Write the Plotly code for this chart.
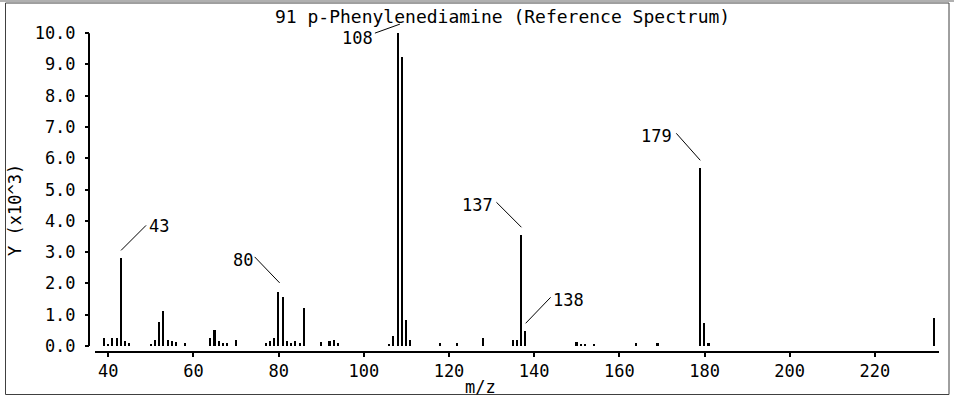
import plotly.graph_objects as go

# peak list (intensity in units of x10^3)
mz = [39, 40, 41, 42, 43, 44, 45, 50, 51, 52, 53, 54, 55, 56, 58,
      64, 65, 66, 67, 68, 70, 77, 78, 79, 80, 81, 82, 83, 84, 85, 86,
      90, 92, 93, 94, 106, 107, 108, 109, 110, 111, 118, 122, 128,
      135, 136, 137, 138, 150, 151, 152, 154, 164, 169, 179, 180, 181, 234]
intensity = [0.27, 0.08, 0.27, 0.27, 2.80, 0.15, 0.10, 0.05, 0.20, 0.77, 1.12, 0.20, 0.15, 0.12, 0.10,
             0.27, 0.52, 0.15, 0.10, 0.10, 0.20, 0.10, 0.15, 0.27, 1.73, 1.57, 0.15, 0.10, 0.15, 0.10, 1.20,
             0.13, 0.15, 0.20, 0.10, 0.07, 0.32, 10.0, 9.25, 0.82, 0.20, 0.10, 0.10, 0.27,
             0.18, 0.20, 3.54, 0.47, 0.12, 0.08, 0.08, 0.08, 0.10, 0.10, 5.68, 0.72, 0.10, 0.88]

x_ticks = [40, 60, 80, 100, 120, 140, 160, 180, 200, 220]
y_ticks = [0, 1, 2, 3, 4, 5, 6, 7, 8, 9, 10]

label_mz = [43, 80, 108, 137, 138, 179]

title = "91 p-Phenylenediamine (Reference Spectrum)"
FONT = dict(family="DejaVu Sans Mono", size=17, color="black")
TITLE_FONT = dict(family="DejaVu Sans Mono", size=18, color="black")

# leader line offsets in pixels from the peak top (up is positive), and text side
leaders = {
    43: (0, 8, 25, 33, "left", 26, 32),
    80: (1, 9, -24, 35, "right", -24, 32),
    108: (2, 9, -23, 0, "right", -23, -5),
    137: (0, 8, -25, 33, "right", -26, 30),
    138: (0, 8, 25, 34, "left", 25, 31),
    179: (0, 8, -24, 35, "right", -26, 32),
}

W, H = 954, 396
L, R, T, B = 89, 15, 20, 44
pw, ph = W - L - R, H - T - B

fig = go.Figure()
fig.add_trace(go.Bar(x=mz, y=intensity, width=0.38,
                     marker=dict(color="black", line=dict(width=0))))

shapes = []
annotations = []
peaks = dict(zip(mz, intensity))
for m in label_mz:
    x0, y0, x1, y1, side, tx, ty = leaders[m]
    shapes.append(dict(type="line", xref="x", yref="y",
                       xsizemode="pixel", ysizemode="pixel",
                       xanchor=m, yanchor=peaks[m],
                       x0=x0, y0=y0, x1=x1, y1=y1,
                       line=dict(color="black", width=1)))
    annotations.append(dict(x=m, y=peaks[m], xref="x", yref="y", text=str(m),
                            showarrow=False, xanchor=side, yanchor="middle",
                            xshift=tx, yshift=ty, font=FONT))

# y axis line drawn separately so it stops at 10.0
shapes.append(dict(type="line", xref="paper", yref="y", x0=0, x1=0, y0=0, y1=10,
                   line=dict(color="black", width=2)))

# outer frame
def px_x(p):
    return (p - L) / pw

def px_y(p):
    return (H - B - p) / ph

shapes.append(dict(type="line", xref="paper", yref="paper",
                   x0=px_x(0), x1=px_x(W), y0=px_y(1), y1=px_y(1),
                   line=dict(color="#b0b0b0", width=2)))
shapes.append(dict(type="rect", xref="paper", yref="paper",
                   x0=px_x(5.5), x1=px_x(949), y0=px_y(3), y1=px_y(394.5),
                   line=dict(color="#404040", width=1)))

annotations.append(dict(x=px_x(502), y=px_y(16), xref="paper", yref="paper",
                        text=title, showarrow=False, xanchor="center", yanchor="middle",
                        font=TITLE_FONT))
annotations.append(dict(x=px_x(480), y=px_y(387), xref="paper", yref="paper",
                        text="m/z", showarrow=False, xanchor="center", yanchor="middle", font=FONT))
annotations.append(dict(x=px_x(15), y=px_y(210), xref="paper", yref="paper",
                        text="Y (x10^3)", textangle=-90, showarrow=False,
                        xanchor="center", yanchor="middle", font=FONT))

fig.update_layout(
    width=W, height=H,
    margin=dict(l=L, r=R, t=T, b=B, pad=0),
    paper_bgcolor="white", plot_bgcolor="white",
    showlegend=False,
    font=FONT,
    bargap=0,
    shapes=shapes,
    annotations=annotations,
    xaxis=dict(domain=[6 / pw, 1], range=[36.88, 235.05], anchor="free", position=0,
               tickvals=x_ticks, ticks="outside", ticklen=4, tickwidth=2, tickcolor="black",
               showline=True, linecolor="black", linewidth=2,
               showgrid=False, zeroline=False, tickfont=FONT),
    yaxis=dict(domain=[6 / ph, 1], range=[0, 10.42], anchor="free", position=0,
               tickvals=y_ticks, tickformat=".1f", ticks="outside", ticklen=4, tickwidth=2,
               tickcolor="black", showline=False, ticklabelstandoff=6,
               showgrid=False, zeroline=False, tickfont=FONT),
)

# page body has a default 8px margin; remove it so the chart sits at the window corner
fig.write_html("out.html", config={"displayModeBar": False},
               post_script="document.body.style.margin='0';")
